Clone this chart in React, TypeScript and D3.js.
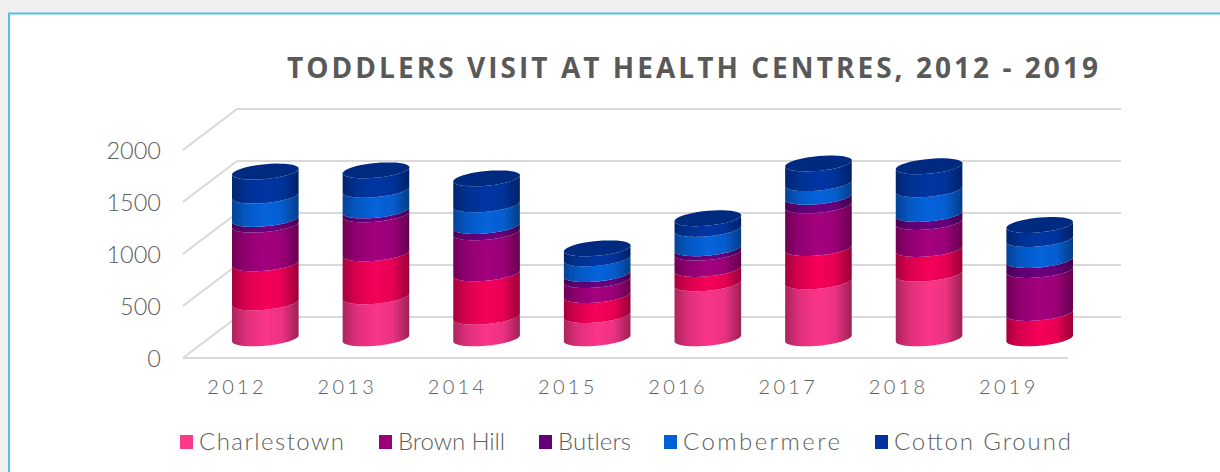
import React from "react";
import * as d3 from "d3";

const years = ["2012", "2013", "2014", "2015", "2016", "2017", "2018", "2019"];
const charlestown = [346, 404, 208, 224, 529, 548, 622, 0];
const unlabelled = [375, 413, 417, 192, 138, 320, 237, 244];
const brownHill = [372, 375, 394, 144, 157, 410, 260, 413];
const butlers = [55, 38, 61, 58, 42, 83, 77, 96];
const combermere = [224, 199, 208, 151, 186, 131, 237, 202];
const cottonGround = [231, 186, 250, 96, 103, 189, 221, 135];
const yTicks = [0, 500, 1000, 1500, 2000];

const stackRows = [charlestown, unlabelled, brownHill, butlers, combermere, cottonGround];
const stackColors = ["#fb3589", "#f6005a", "#a4007f", "#6a0080", "#0563dc", "#0036a4"];
const legendNames = ["Charlestown", "Brown Hill", "Butlers", "Combermere", "Cotton Ground"];
const legendColors = ["#fb3a8a", "#9c0078", "#660078", "#0060d8", "#0033a0"];
const legendX = [180, 379, 539, 664, 875];
const legendWidths = [145, 107, 73, 157, 177];

const FONT = "Lato, 'Open Sans', sans-serif";
const TEXT = "#5e5e5e";
const GRID = "#d9d9d9";

const x = d3.scaleBand<string>().domain(years).range([183, 1068]);
const xLabel = d3.scaleBand<string>().domain(years).range([182, 1064]);
const yFront = d3.scaleLinear().domain([0, 2000]).range([358, 150]);
const yBack = d3.scaleLinear().domain([0, 2000]).range([317, 109]);
const yBar = d3.scaleLinear().domain([0, 2000]).range([338.3, 130.3]);

const DEPTH = 54;
const RX = 33.3;
const SKEW = 3;
const RY = 7.4;
const line = d3.line<[number, number]>().curve(d3.curveLinear);

const arcPts = (cx: number, cy: number, from: number, to: number): [number, number][] =>
  d3.range(0, 41).map((i) => {
    const t = from + ((to - from) * i) / 40;
    return [cx + RX * Math.cos(t), cy - SKEW * Math.cos(t) + RY * Math.sin(t)];
  });

const band = (cx: number, y0: number, y1: number) =>
  line([...arcPts(cx, y0, Math.PI, 0), ...arcPts(cx, y1, 0, Math.PI)]) + "Z";

const ellipse = (cx: number, cy: number) => line(arcPts(cx, cy, 0, 2 * Math.PI)) + "Z";

const shade = (c: string, k: number) => d3.interpolateRgb(c, "#000")(k);

export default function App() {
  return (
    <svg
      width={1220}
      height={472}
      style={{ position: "absolute", left: 0, top: 0, background: "#f0f0f0" }}
    >
      <defs>
        {stackColors.map((c, i) => (
          <linearGradient key={i} id={`g${i}`} x1="0" x2="1" y1="0" y2="0">
            <stop offset="0" stopColor={shade(c, 0.32)} />
            <stop offset="0.2" stopColor={shade(c, 0.12)} />
            <stop offset="0.5" stopColor={c} />
            <stop offset="0.75" stopColor={shade(c, 0.06)} />
            <stop offset="1" stopColor={shade(c, 0.38)} />
          </linearGradient>
        ))}
      </defs>
      <rect x={9} y={13.5} width={1300} height={500} fill="#fff" stroke="#4fc3ee" strokeWidth={2} />

      <text
        x={287}
        y={78}
        fontFamily="'Open Sans', sans-serif"
        fontWeight={700}
        fontSize={28}
        letterSpacing={3.04}
        fill="#595959"
      >
        TODDLERS VISIT AT HEALTH CENTRES, 2012 - 2019
      </text>

      {yTicks.map((t) => (
        <g key={t}>
          <line x1={183} x2={237} y1={yFront(t)} y2={yBack(t)} stroke={GRID} strokeWidth={2} />
          <line x1={237} x2={1121} y1={yBack(t)} y2={yBack(t)} stroke={GRID} strokeWidth={2} />
          <text
            x={161}
            y={yFront(t) + 9}
            textAnchor="end"
            fontFamily={FONT}
            fontWeight={300}
            fontSize={23.5}
            fill={TEXT}
          >
            {t}
          </text>
        </g>
      ))}
      <line x1={183} x2={1068} y1={yFront(0)} y2={yFront(0)} stroke={GRID} strokeWidth={2} />

      {years.map((yr, i) => {
        const cx = (x(yr) as number) + x.bandwidth() / 2 + DEPTH / 2;
        let acc = 0;
        const parts = stackRows.map((row, s) => {
          const y0 = yBar(acc);
          acc += row[i];
          const y1 = yBar(acc);
          return row[i] > 0 ? <path key={s} d={band(cx, y0, y1)} fill={`url(#g${s})`} /> : null;
        });
        return (
          <g key={yr}>
            {parts}
            <path d={ellipse(cx, yBar(acc))} fill="#002a80" />
            <text
              x={(xLabel(yr) as number) + xLabel.bandwidth() / 2}
              y={394}
              textAnchor="middle"
              fontFamily={FONT}
              fontWeight={300}
              fontSize={20}
              letterSpacing={3.3}
              fill={TEXT}
            >
              {yr}
            </text>
          </g>
        );
      })}

      {legendNames.map((n, i) => (
        <g key={n}>
          <rect x={legendX[i]} y={435} width={13} height={14} fill={legendColors[i]} />
          <text
            x={legendX[i] + 19}
            y={450}
            fontFamily={FONT}
            fontWeight={300}
            fontSize={24}
            textLength={legendWidths[i]}
            lengthAdjust="spacing"
            fill={TEXT}
          >
            {n}
          </text>
        </g>
      ))}
    </svg>
  );
}
